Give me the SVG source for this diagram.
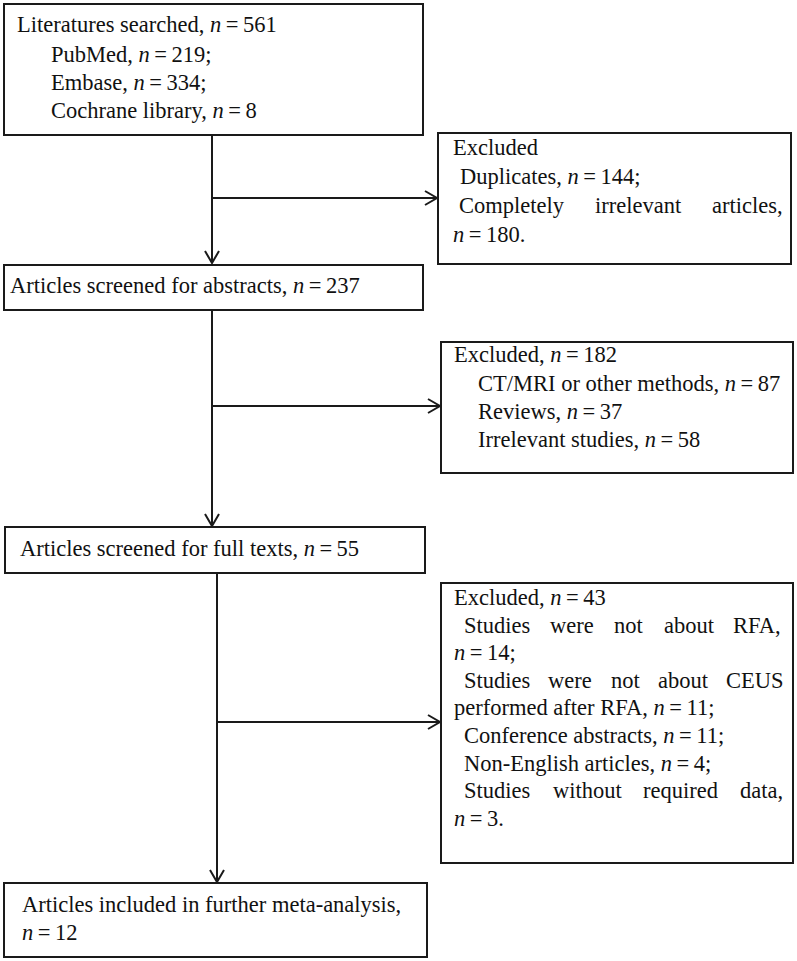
<svg xmlns="http://www.w3.org/2000/svg" width="797" height="961" viewBox="0 0 797 961">
<style>
.box{fill:#fff;stroke:#1a1a1a;stroke-width:2}
.t{font-family:"Liberation Serif","Times New Roman",serif;font-size:22.5px;fill:#111}
.i{font-style:italic}
.c{fill:none;stroke:#1a1a1a;stroke-width:2}
</style>
<defs>
<marker id="ah" markerUnits="userSpaceOnUse" markerWidth="16" markerHeight="16" viewBox="-14 -8 16 16" refX="0" refY="0" orient="auto">
<path d="M-12,-7 L0,0 L-12,7" fill="none" stroke="#1a1a1a" stroke-width="2"/>
</marker>
</defs>
<rect x="0" y="0" width="797" height="961" fill="#fff"/>
<g id="connectors">
<path class="c" d="M212,135 V263" marker-end="url(#ah)"/>
<path class="c" d="M212,198 H437" marker-end="url(#ah)"/>
<path class="c" d="M212,310 V526" marker-end="url(#ah)"/>
<path class="c" d="M212,406 H440" marker-end="url(#ah)"/>
<path class="c" d="M217,573 V882" marker-end="url(#ah)"/>
<path class="c" d="M217,722 H440" marker-end="url(#ah)"/>
</g>
<g id="n1">
<rect class="box" x="4" y="4" width="419" height="131"/>
<text class="t" x="17" y="32">Literatures searched, <tspan class="i">n</tspan>&#8201;=&#8201;561</text>
<text class="t" x="51" y="62">PubMed, <tspan class="i">n</tspan>&#8201;=&#8201;219;</text>
<text class="t" x="51" y="90">Embase, <tspan class="i">n</tspan>&#8201;=&#8201;334;</text>
<text class="t" x="51" y="118">Cochrane library,  <tspan class="i">n</tspan>&#8201;=&#8201;8</text>
</g>
<g id="e1">
<rect class="box" x="438" y="133" width="353" height="131"/>
<text class="t" x="453" y="155">Excluded</text>
<text class="t" x="460" y="184">Duplicates, <tspan class="i">n</tspan>&#8201;=&#8201;144;</text>
<text class="t" y="213"><tspan x="459">Completely</tspan><tspan x="595">irrelevant</tspan><tspan x="712">articles,</tspan></text>
<text class="t" x="453" y="242"><tspan class="i">n</tspan>&#8201;=&#8201;180.</text>
</g>
<g id="n2">
<rect class="box" x="4" y="265" width="419" height="45"/>
<text class="t" x="10" y="293">Articles screened for abstracts, <tspan class="i">n</tspan>&#8201;=&#8201;237</text>
</g>
<g id="e2">
<rect class="box" x="441" y="342" width="352" height="131"/>
<text class="t" x="454" y="362">Excluded, <tspan class="i">n</tspan>&#8201;=&#8201;182</text>
<text class="t" x="478" y="391">CT/MRI or other methods, <tspan class="i">n</tspan>&#8201;=&#8201;87</text>
<text class="t" x="478" y="419">Reviews, <tspan class="i">n</tspan>&#8201;=&#8201;37</text>
<text class="t" x="478" y="447">Irrelevant studies, <tspan class="i">n</tspan>&#8201;=&#8201;58</text>
</g>
<g id="n3">
<rect class="box" x="5" y="527" width="420" height="46"/>
<text class="t" x="20" y="556">Articles screened for full texts, <tspan class="i">n</tspan>&#8201;=&#8201;55</text>
</g>
<g id="e3">
<rect class="box" x="441" y="583" width="352" height="280"/>
<text class="t" x="454" y="605">Excluded, <tspan class="i">n</tspan>&#8201;=&#8201;43</text>
<text class="t" y="633"><tspan x="464">Studies</tspan><tspan x="550">were</tspan><tspan x="614">not</tspan><tspan x="664">about</tspan><tspan x="733">RFA,</tspan></text>
<text class="t" x="454" y="660"><tspan class="i">n</tspan>&#8201;=&#8201;14;</text>
<text class="t" y="688"><tspan x="464">Studies</tspan><tspan x="548">were</tspan><tspan x="611">not</tspan><tspan x="658">about</tspan><tspan x="726">CEUS</tspan></text>
<text class="t" x="454" y="715">performed after RFA, <tspan class="i">n</tspan>&#8201;=&#8201;11;</text>
<text class="t" x="464" y="743">Conference abstracts, <tspan class="i">n</tspan>&#8201;=&#8201;11;</text>
<text class="t" x="464" y="771">Non-English articles,  <tspan class="i">n</tspan>&#8201;=&#8201;4;</text>
<text class="t" y="798"><tspan x="464">Studies</tspan><tspan x="553">without</tspan><tspan x="643">required</tspan><tspan x="740">data,</tspan></text>
<text class="t" x="454" y="826"><tspan class="i">n</tspan>&#8201;=&#8201;3.</text>
</g>
<g id="n4">
<rect class="box" x="4" y="883" width="423" height="74"/>
<text class="t" x="22" y="912">Articles included in further meta-analysis,</text>
<text class="t" x="22" y="940"><tspan class="i">n</tspan>&#8201;=&#8201;12</text>
</g>
</svg>
